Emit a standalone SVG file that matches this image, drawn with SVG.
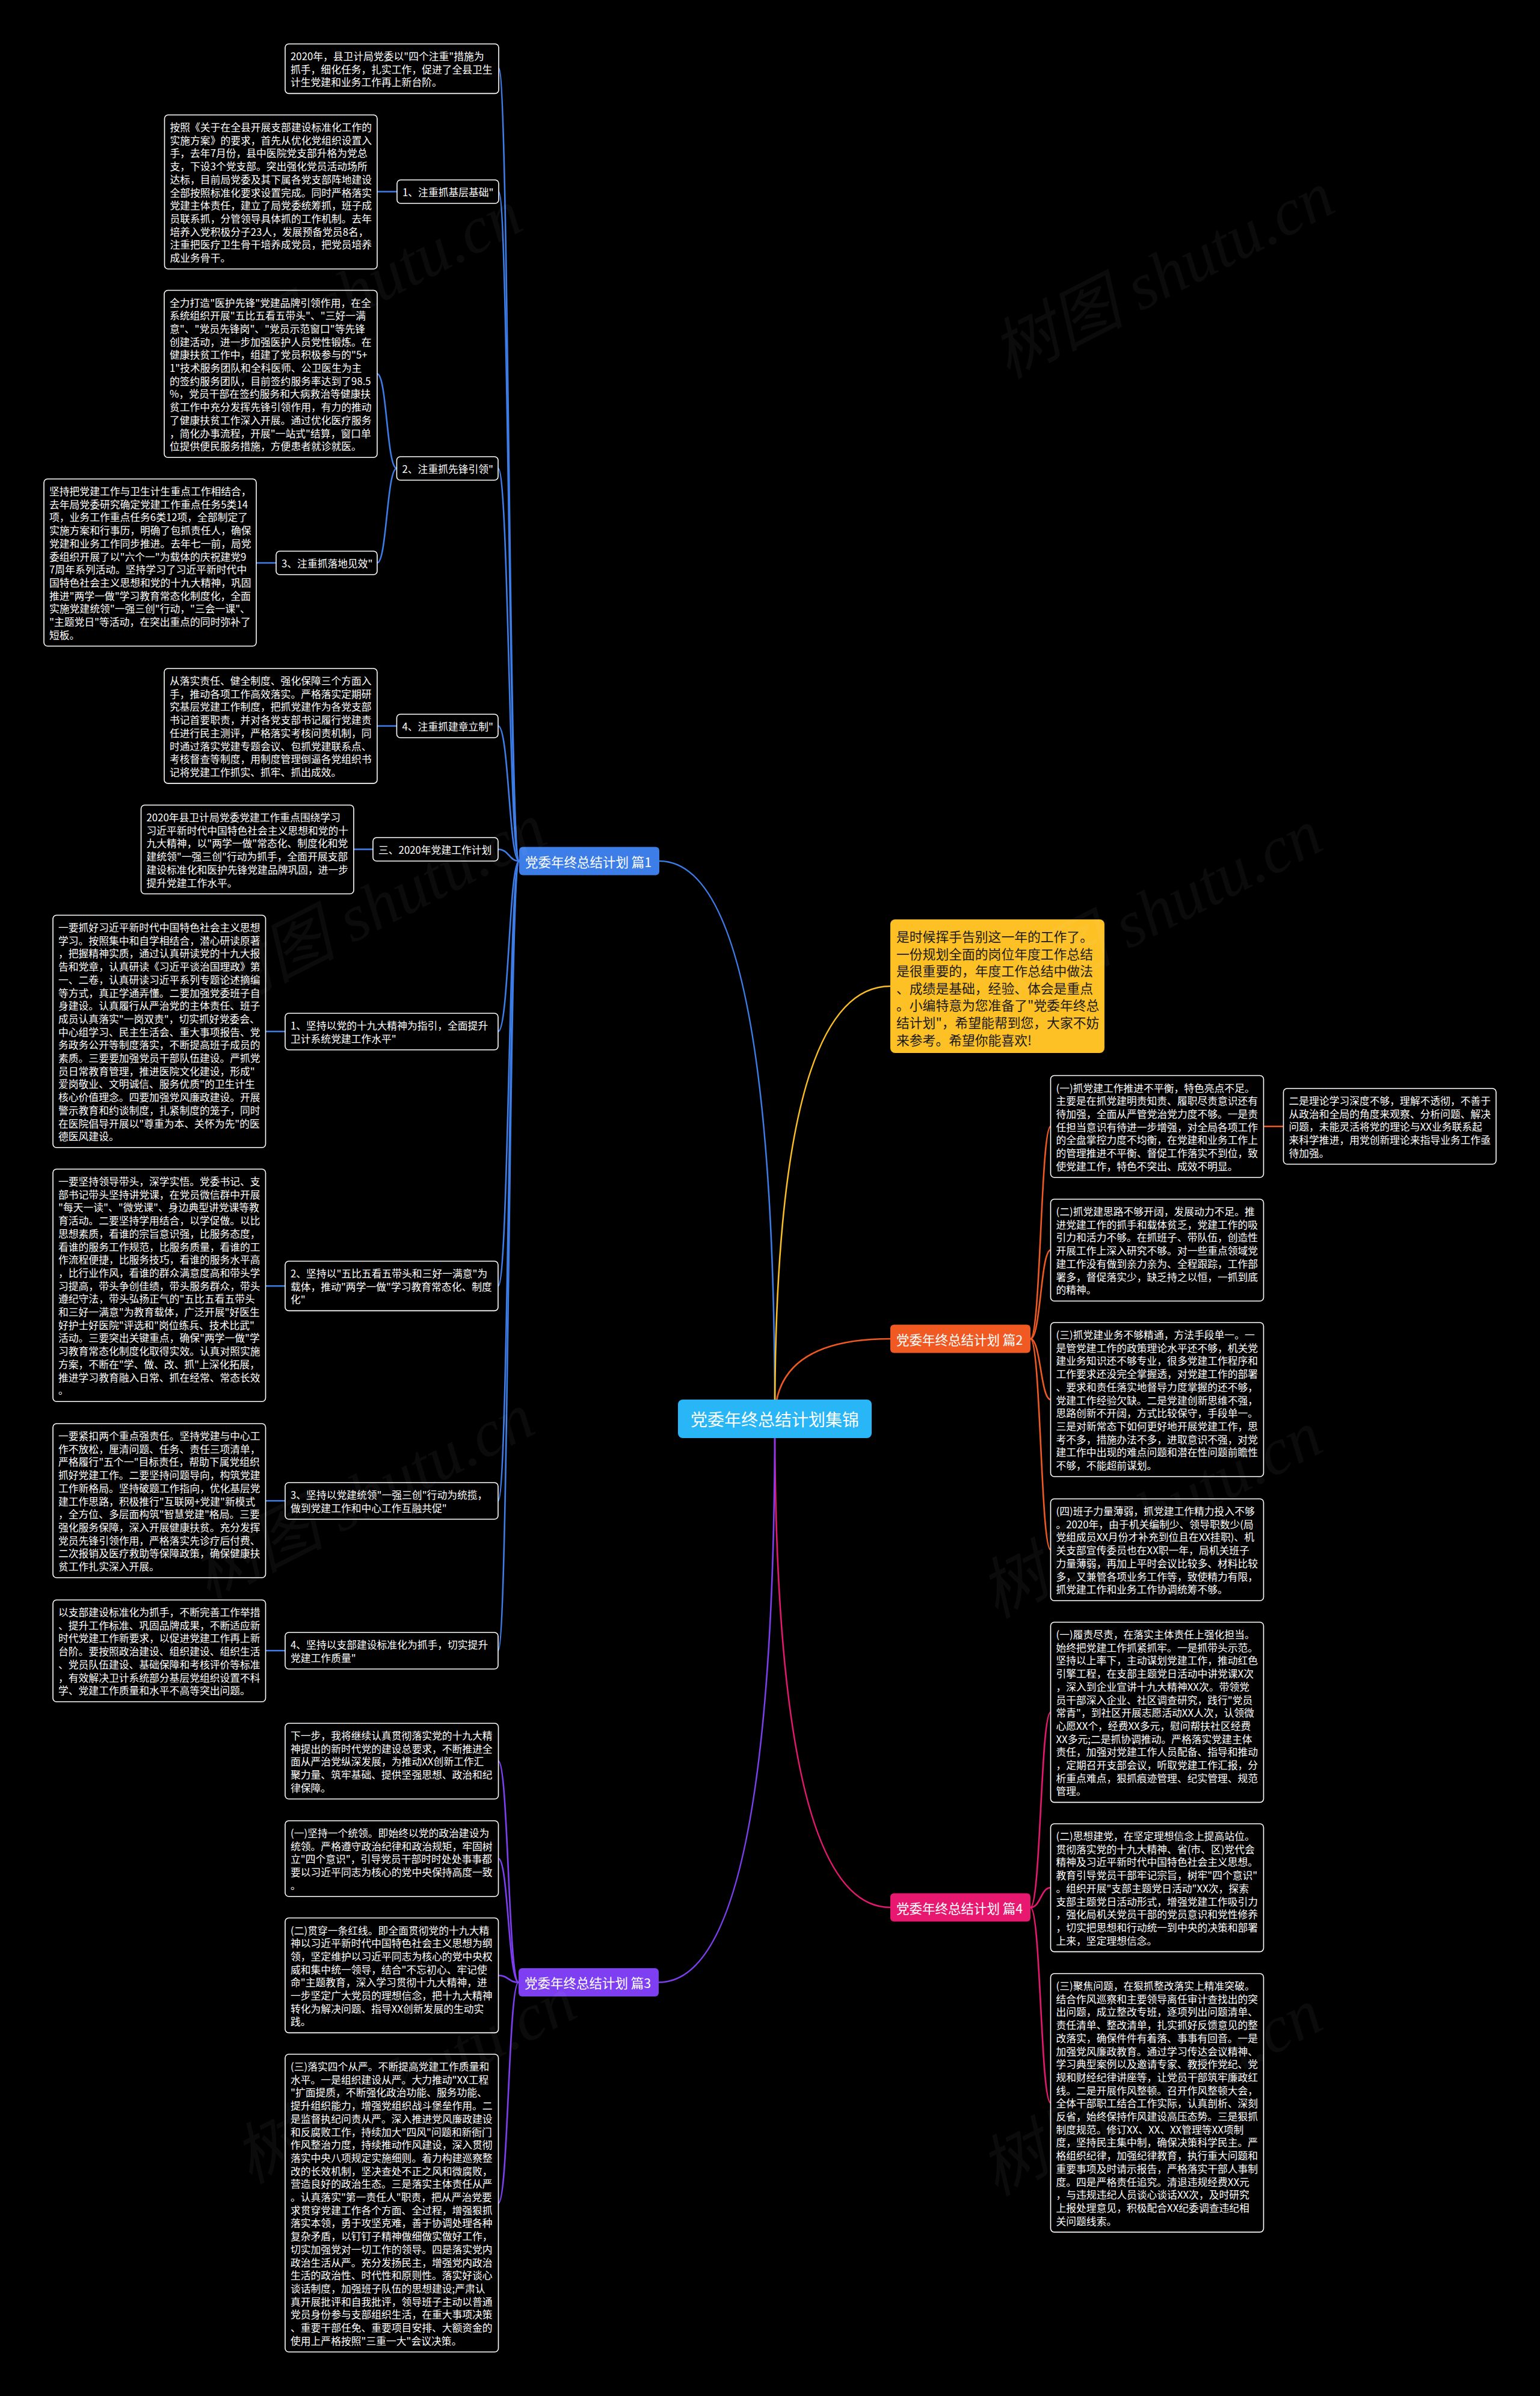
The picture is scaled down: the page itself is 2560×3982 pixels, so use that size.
<svg xmlns="http://www.w3.org/2000/svg" width="2560" height="3982" viewBox="0 0 2560 3982">
<style>
.bg{fill:#000}
.bx{fill:#000;stroke:#fff;stroke-width:1.6}
.tx{font-family:"Noto Sans CJK SC","Noto Sans",sans-serif;font-size:16.8px;fill:#fff;dominant-baseline:central}
.tm{font-family:"Noto Sans CJK SC","Noto Sans",sans-serif;font-size:21.5px;fill:#fff;dominant-baseline:central}
.ti{font-family:"Noto Sans CJK SC","Noto Sans",sans-serif;font-size:21.8px;fill:#1a1a1a;dominant-baseline:central}
.tr{font-family:"Noto Sans CJK SC","Noto Sans",sans-serif;font-size:28px;fill:#fff;dominant-baseline:central;text-anchor:middle}
.ln{fill:none;stroke-width:2.6}
.cb{stroke:#3d7de8}.co{stroke:#f05a22}.cp{stroke:#7e3ff2}.ck{stroke:#e8176f}.cy{stroke:#fbbf24}
.wm{font-family:"Liberation Serif","Noto Sans CJK SC",serif;font-style:italic;font-size:110px;fill:#fff;fill-opacity:0.045;text-anchor:middle}
</style>
<rect class="bg" x="0" y="0" width="2560" height="3982"/>

<g id="connectors">
<path class="ln cb" d="M1288,2358 Q1288,1431 1096,1431"/>
<path class="ln cy" d="M1288,2358 Q1288,1639 1480,1639"/>
<path class="ln co" d="M1288,2358 Q1288,2225 1480,2225"/>
<path class="ln ck" d="M1288,2358 Q1288,3170 1480,3170"/>
<path class="ln cp" d="M1288,2358 Q1288,3294.5 1095,3294.5"/>

<path class="ln cb" d="M863,1431 C846,1431 846,113.5 829,113.5"/>
<path class="ln cb" d="M863,1431 C846,1431 846,318.5 829,318.5"/>
<path class="ln cb" d="M863,1431 C846,1431 846,778.5 828,778.5"/>
<path class="ln cb" d="M863,1431 C846,1431 846,1206.5 828,1206.5"/>
<path class="ln cb" d="M863,1431 C846,1431 846,1411.5 828,1411.5"/>
<path class="ln cb" d="M863,1431 C846,1431 846,1714.3 828,1714.3"/>
<path class="ln cb" d="M863,1431 C846,1431 846,2137.2 828,2137.2"/>
<path class="ln cb" d="M863,1431 C846,1431 846,2494.3 828,2494.3"/>
<path class="ln cb" d="M863,1431 C846,1431 846,2743.3 828,2743.3"/>

<path class="ln cb" d="M660,318.5 L627,318.5"/>
<path class="ln cb" d="M659.5,778.5 C643,778.5 643,621.4 627,621.4"/>
<path class="ln cb" d="M659.5,778.5 C643,778.5 643,935.5 627,935.5"/>
<path class="ln cb" d="M459,935.5 L426,935.5"/>
<path class="ln cb" d="M659.5,1206.5 L627,1206.5"/>
<path class="ln cb" d="M620,1411.5 L588,1411.5"/>
<path class="ln cb" d="M474,1714.3 L441.5,1714.3"/>
<path class="ln cb" d="M474,2137.2 L441.5,2137.2"/>
<path class="ln cb" d="M474,2494.3 L441.5,2494.3"/>
<path class="ln cb" d="M474,2743.3 L441.5,2743.3"/>

<path class="ln cp" d="M862,3294.5 C845,3294.5 845,2926.9 828.5,2926.9"/>
<path class="ln cp" d="M862,3294.5 C845,3294.5 845,3088.9 828.5,3088.9"/>
<path class="ln cp" d="M862,3294.5 C845,3294.5 845,3283 828.5,3283"/>
<path class="ln cp" d="M862,3294.5 C845,3294.5 845,3661.4 828.5,3661.4"/>

<path class="ln co" d="M1713,2225 C1730,2225 1730,1872.1 1746.5,1872.1"/>
<path class="ln co" d="M1713,2225 C1730,2225 1730,2077.6 1746.5,2077.6"/>
<path class="ln co" d="M1713,2225 C1730,2225 1730,2326 1746.5,2326"/>
<path class="ln co" d="M1713,2225 C1730,2225 1730,2575.6 1746.5,2575.6"/>
<path class="ln co" d="M2100.5,1872 L2133.5,1872"/>

<path class="ln ck" d="M1713,3170 C1730,3170 1730,2845.7 1746.5,2845.7"/>
<path class="ln ck" d="M1713,3170 C1730,3170 1730,3137.3 1746.5,3137.3"/>
<path class="ln ck" d="M1713,3170 C1730,3170 1730,3494.8 1746.5,3494.8"/>
</g>

<g id="root">
<rect x="1127" y="2326" width="322" height="64" rx="8" fill="#29b6f6"/>
<text class="tr" x="1288" y="2358">党委年终总结计划集锦</text>
</g>

<g id="intro">
<rect x="1480" y="1528" width="356" height="222" rx="8" fill="#fdc125"/>
<text class="ti"><tspan x="1490" y="1555">是时候挥手告别这一年的工作了。</tspan><tspan x="1490" y="1583.6">一份规划全面的岗位年度工作总结</tspan><tspan x="1490" y="1612.2">是很重要的，年度工作总结中做法</tspan><tspan x="1490" y="1640.8">、成绩是基础，经验、体会是重点</tspan><tspan x="1490" y="1669.4">。小编特意为您准备了"党委年终总</tspan><tspan x="1490" y="1698">结计划"，希望能帮到您，大家不妨</tspan><tspan x="1490" y="1726.6">来参考。希望你能喜欢!</tspan></text>
</g>

<g id="p1">
<rect x="863" y="1407.5" width="233" height="47" rx="6" fill="#3d7de8"/>
<text class="tm" x="873" y="1431">党委年终总结计划 篇1</text>
</g>
<g id="p2">
<rect x="1480" y="2201.5" width="233" height="47" rx="6" fill="#f05a22"/>
<text class="tm" x="1490" y="2225">党委年终总结计划 篇2</text>
</g>
<g id="p3">
<rect x="862" y="3271" width="233" height="47" rx="6" fill="#7e3ff2"/>
<text class="tm" x="872" y="3294.5">党委年终总结计划 篇3</text>
</g>
<g id="p4">
<rect x="1480" y="3146.5" width="233" height="47" rx="6" fill="#e8176f"/>
<text class="tm" x="1490" y="3170">党委年终总结计划 篇4</text>
</g>

<g id="a">
<rect class="bx" x="474" y="73" width="355" height="82.4" rx="6"/>
<text class="tx"><tspan x="483" y="93">2020年，县卫计局党委以"四个注重"措施为</tspan><tspan x="483" y="114.7">抓手，细化任务，扎实工作，促进了全县卫生</tspan><tspan x="483" y="136.4">计生党建和业务工作再上新台阶。</tspan></text>
</g>
<g id="n1">
<rect class="bx" x="660" y="299" width="169" height="39" rx="6"/>
<text class="tx" x="669" y="318.5">1、注重抓基层基础"</text>
</g>
<g id="b">
<rect class="bx" x="273.5" y="191" width="353.5" height="256" rx="6"/>
<text class="tx"><tspan x="282.5" y="211">按照《关于在全县开展支部建设标准化工作的</tspan><tspan x="282.5" y="232.7">实施方案》的要求，首先从优化党组织设置入</tspan><tspan x="282.5" y="254.4">手，去年7月份，县中医院党支部升格为党总</tspan><tspan x="282.5" y="276.1">支，下设3个党支部。突出强化党员活动场所</tspan><tspan x="282.5" y="297.8">达标，目前局党委及其下属各党支部阵地建设</tspan><tspan x="282.5" y="319.5">全部按照标准化要求设置完成。同时严格落实</tspan><tspan x="282.5" y="341.2">党建主体责任，建立了局党委统筹抓，班子成</tspan><tspan x="282.5" y="362.9">员联系抓，分管领导具体抓的工作机制。去年</tspan><tspan x="282.5" y="384.6">培养入党积极分子23人，发展预备党员8名，</tspan><tspan x="282.5" y="406.3">注重把医疗卫生骨干培养成党员，把党员培养</tspan><tspan x="282.5" y="428">成业务骨干。</tspan></text>
</g>
<g id="n2">
<rect class="bx" x="659.5" y="759" width="168.5" height="39" rx="6"/>
<text class="tx" x="668.5" y="778.5">2、注重抓先锋引领"</text>
</g>
<g id="c">
<rect class="bx" x="273" y="482.5" width="354" height="277.7" rx="6"/>
<text class="tx"><tspan x="282" y="502.5">全力打造"医护先锋"党建品牌引领作用，在全</tspan><tspan x="282" y="524.2">系统组织开展"五比五看五带头"、"三好一满</tspan><tspan x="282" y="545.9">意"、"党员先锋岗"、"党员示范窗口"等先锋</tspan><tspan x="282" y="567.6">创建活动，进一步加强医护人员党性锻炼。在</tspan><tspan x="282" y="589.3">健康扶贫工作中，组建了党员积极参与的"5+</tspan><tspan x="282" y="611">1"技术服务团队和全科医师、公卫医生为主</tspan><tspan x="282" y="632.7">的签约服务团队，目前签约服务率达到了98.5</tspan><tspan x="282" y="654.4">%，党员干部在签约服务和大病救治等健康扶</tspan><tspan x="282" y="676.1">贫工作中充分发挥先锋引领作用，有力的推动</tspan><tspan x="282" y="697.8">了健康扶贫工作深入开展。通过优化医疗服务</tspan><tspan x="282" y="719.5">，简化办事流程，开展"一站式"结算，窗口单</tspan><tspan x="282" y="741.2">位提供便民服务措施，方便患者就诊就医。</tspan></text>
</g>
<g id="n3">
<rect class="bx" x="459" y="916" width="168" height="39" rx="6"/>
<text class="tx" x="468" y="935.5">3、注重抓落地见效"</text>
</g>
<g id="d">
<rect class="bx" x="73" y="796" width="353" height="277.7" rx="6"/>
<text class="tx"><tspan x="82" y="816">坚持把党建工作与卫生计生重点工作相结合，</tspan><tspan x="82" y="837.7">去年局党委研究确定党建工作重点任务5类14</tspan><tspan x="82" y="859.4">项，业务工作重点任务6类12项，全部制定了</tspan><tspan x="82" y="881.1">实施方案和行事历，明确了包抓责任人，确保</tspan><tspan x="82" y="902.8">党建和业务工作同步推进。去年七一前，局党</tspan><tspan x="82" y="924.5">委组织开展了以"六个一"为载体的庆祝建党9</tspan><tspan x="82" y="946.2">7周年系列活动。坚持学习了习近平新时代中</tspan><tspan x="82" y="967.9">国特色社会主义思想和党的十九大精神，巩固</tspan><tspan x="82" y="989.6">推进"两学一做"学习教育常态化制度化，全面</tspan><tspan x="82" y="1011.3">实施党建统领"一强三创"行动，"三会一课"、</tspan><tspan x="82" y="1033">"主题党日"等活动，在突出重点的同时弥补了</tspan><tspan x="82" y="1054.7">短板。</tspan></text>
</g>
<g id="n4">
<rect class="bx" x="659.5" y="1187" width="168.5" height="39" rx="6"/>
<text class="tx" x="668.5" y="1206.5">4、注重抓建章立制"</text>
</g>
<g id="e">
<rect class="bx" x="273" y="1111" width="354" height="190.9" rx="6"/>
<text class="tx"><tspan x="282" y="1131">从落实责任、健全制度、强化保障三个方面入</tspan><tspan x="282" y="1152.7">手，推动各项工作高效落实。严格落实定期研</tspan><tspan x="282" y="1174.4">究基层党建工作制度，把抓党建作为各党支部</tspan><tspan x="282" y="1196.1">书记首要职责，并对各党支部书记履行党建责</tspan><tspan x="282" y="1217.8">任进行民主测评，严格落实考核问责机制，同</tspan><tspan x="282" y="1239.5">时通过落实党建专题会议、包抓党建联系点、</tspan><tspan x="282" y="1261.2">考核督查等制度，用制度管理倒逼各党组织书</tspan><tspan x="282" y="1282.9">记将党建工作抓实、抓牢、抓出成效。</tspan></text>
</g>
<g id="n5">
<rect class="bx" x="620" y="1392" width="208" height="39" rx="6"/>
<text class="tx" x="629" y="1411.5">三、2020年党建工作计划</text>
</g>
<g id="f">
<rect class="bx" x="234.5" y="1338" width="353.5" height="147.5" rx="6"/>
<text class="tx"><tspan x="243.5" y="1358">2020年县卫计局党委党建工作重点围绕学习</tspan><tspan x="243.5" y="1379.7">习近平新时代中国特色社会主义思想和党的十</tspan><tspan x="243.5" y="1401.4">九大精神，以"两学一做"常态化、制度化和党</tspan><tspan x="243.5" y="1423.1">建统领"一强三创"行动为抓手，全面开展支部</tspan><tspan x="243.5" y="1444.8">建设标准化和医护先锋党建品牌巩固，进一步</tspan><tspan x="243.5" y="1466.5">提升党建工作水平。</tspan></text>
</g>
<g id="n6">
<rect class="bx" x="474" y="1684" width="354" height="60.7" rx="6"/>
<text class="tx"><tspan x="483" y="1704">1、坚持以党的十九大精神为指引，全面提升</tspan><tspan x="483" y="1725.7">卫计系统党建工作水平"</tspan></text>
</g>
<g id="g">
<rect class="bx" x="88" y="1521" width="353.5" height="386.2" rx="6"/>
<text class="tx"><tspan x="97" y="1541">一要抓好习近平新时代中国特色社会主义思想</tspan><tspan x="97" y="1562.7">学习。按照集中和自学相结合，潜心研读原著</tspan><tspan x="97" y="1584.4">，把握精神实质，通过认真研读党的十九大报</tspan><tspan x="97" y="1606.1">告和党章，认真研读《习近平谈治国理政》第</tspan><tspan x="97" y="1627.8">一、二卷，认真研读习近平系列专题论述摘编</tspan><tspan x="97" y="1649.5">等方式，真正学通弄懂。二要加强党委班子自</tspan><tspan x="97" y="1671.2">身建设。认真履行从严治党的主体责任、班子</tspan><tspan x="97" y="1692.9">成员认真落实"一岗双责"，切实抓好党委会、</tspan><tspan x="97" y="1714.6">中心组学习、民主生活会、重大事项报告、党</tspan><tspan x="97" y="1736.3">务政务公开等制度落实，不断提高班子成员的</tspan><tspan x="97" y="1758">素质。三要要加强党员干部队伍建设。严抓党</tspan><tspan x="97" y="1779.7">员日常教育管理，推进医院文化建设，形成"</tspan><tspan x="97" y="1801.4">爱岗敬业、文明诚信、服务优质"的卫生计生</tspan><tspan x="97" y="1823.1">核心价值理念。四要加强党风廉政建设。开展</tspan><tspan x="97" y="1844.8">警示教育和约谈制度，扎紧制度的笼子，同时</tspan><tspan x="97" y="1866.5">在医院倡导开展以"尊重为本、关怀为先"的医</tspan><tspan x="97" y="1888.2">德医风建设。</tspan></text>
</g>
<g id="n7">
<rect class="bx" x="474" y="2096" width="354" height="82.4" rx="6"/>
<text class="tx"><tspan x="483" y="2116">2、坚持以"五比五看五带头和三好一满意"为</tspan><tspan x="483" y="2137.7">载体，推动"两学一做"学习教育常态化、制度</tspan><tspan x="483" y="2159.4">化"</tspan></text>
</g>
<g id="h">
<rect class="bx" x="88" y="1943" width="353.5" height="386.2" rx="6"/>
<text class="tx"><tspan x="97" y="1963">一要坚持领导带头，深学实悟。党委书记、支</tspan><tspan x="97" y="1984.7">部书记带头坚持讲党课，在党员微信群中开展</tspan><tspan x="97" y="2006.4">"每天一读"、"微党课"、身边典型讲党课等教</tspan><tspan x="97" y="2028.1">育活动。二要坚持学用结合，以学促做。以比</tspan><tspan x="97" y="2049.8">思想素质，看谁的宗旨意识强，比服务态度，</tspan><tspan x="97" y="2071.5">看谁的服务工作规范，比服务质量，看谁的工</tspan><tspan x="97" y="2093.2">作流程便捷，比服务技巧，看谁的服务水平高</tspan><tspan x="97" y="2114.9">，比行业作风，看谁的群众满意度高和带头学</tspan><tspan x="97" y="2136.6">习提高，带头争创佳绩，带头服务群众，带头</tspan><tspan x="97" y="2158.3">遵纪守法，带头弘扬正气的"五比五看五带头</tspan><tspan x="97" y="2180">和三好一满意"为教育载体，广泛开展"好医生</tspan><tspan x="97" y="2201.7">好护士好医院"评选和"岗位练兵、技术比武"</tspan><tspan x="97" y="2223.4">活动。三要突出关键重点，确保"两学一做"学</tspan><tspan x="97" y="2245.1">习教育常态化制度化取得实效。认真对照实施</tspan><tspan x="97" y="2266.8">方案，不断在"学、做、改、抓"上深化拓展，</tspan><tspan x="97" y="2288.5">推进学习教育融入日常、抓在经常、常态长效</tspan><tspan x="97" y="2310.2">。</tspan></text>
</g>
<g id="n8">
<rect class="bx" x="474" y="2464" width="354" height="60.7" rx="6"/>
<text class="tx"><tspan x="483" y="2484">3、坚持以党建统领"一强三创"行动为统揽，</tspan><tspan x="483" y="2505.7">做到党建工作和中心工作互融共促"</tspan></text>
</g>
<g id="i">
<rect class="bx" x="88" y="2366" width="353.5" height="256" rx="6"/>
<text class="tx"><tspan x="97" y="2386">一要紧扣两个重点强责任。坚持党建与中心工</tspan><tspan x="97" y="2407.7">作不放松，厘清问题、任务、责任三项清单，</tspan><tspan x="97" y="2429.4">严格履行"五个一"目标责任，帮助下属党组织</tspan><tspan x="97" y="2451.1">抓好党建工作。二要坚持问题导向，构筑党建</tspan><tspan x="97" y="2472.8">工作新格局。坚持破题工作指向，优化基层党</tspan><tspan x="97" y="2494.5">建工作思路，积极推行"互联网+党建"新模式</tspan><tspan x="97" y="2516.2">，全方位、多层面构筑"智慧党建"格局。三要</tspan><tspan x="97" y="2537.9">强化服务保障，深入开展健康扶贫。充分发挥</tspan><tspan x="97" y="2559.6">党员先锋引领作用，严格落实先诊疗后付费、</tspan><tspan x="97" y="2581.3">二次报销及医疗救助等保障政策，确保健康扶</tspan><tspan x="97" y="2603">贫工作扎实深入开展。</tspan></text>
</g>
<g id="n9">
<rect class="bx" x="474" y="2713" width="354" height="60.7" rx="6"/>
<text class="tx"><tspan x="483" y="2733">4、坚持以支部建设标准化为抓手，切实提升</tspan><tspan x="483" y="2754.7">党建工作质量"</tspan></text>
</g>
<g id="j">
<rect class="bx" x="88" y="2659" width="353.5" height="169.2" rx="6"/>
<text class="tx"><tspan x="97" y="2679">以支部建设标准化为抓手，不断完善工作举措</tspan><tspan x="97" y="2700.7">、提升工作标准、巩固品牌成果，不断适应新</tspan><tspan x="97" y="2722.4">时代党建工作新要求，以促进党建工作再上新</tspan><tspan x="97" y="2744.1">台阶。要按照政治建设、组织建设、组织生活</tspan><tspan x="97" y="2765.8">、党员队伍建设、基础保障和考核评价等标准</tspan><tspan x="97" y="2787.5">，有效解决卫计系统部分基层党组织设置不科</tspan><tspan x="97" y="2809.2">学、党建工作质量和水平不高等突出问题。</tspan></text>
</g>

<g id="k">
<rect class="bx" x="474" y="2864" width="354.5" height="125.8" rx="6"/>
<text class="tx"><tspan x="483" y="2884">下一步，我将继续认真贯彻落实党的十九大精</tspan><tspan x="483" y="2905.7">神提出的新时代党的建设总要求，不断推进全</tspan><tspan x="483" y="2927.4">面从严治党纵深发展，为推动XX创新工作汇</tspan><tspan x="483" y="2949.1">聚力量、筑牢基础、提供坚强思想、政治和纪</tspan><tspan x="483" y="2970.8">律保障。</tspan></text>
</g>
<g id="l">
<rect class="bx" x="474" y="3026" width="354.5" height="125.8" rx="6"/>
<text class="tx"><tspan x="483" y="3046">(一)坚持一个统领。即始终以党的政治建设为</tspan><tspan x="483" y="3067.7">统领。严格遵守政治纪律和政治规矩，牢固树</tspan><tspan x="483" y="3089.4">立"四个意识"，引导党员干部时时处处事事都</tspan><tspan x="483" y="3111.1">要以习近平同志为核心的党中央保持高度一致</tspan><tspan x="483" y="3132.8">。</tspan></text>
</g>
<g id="m">
<rect class="bx" x="474" y="3187.5" width="354.5" height="190.9" rx="6"/>
<text class="tx"><tspan x="483" y="3207.5">(二)贯穿一条红线。即全面贯彻党的十九大精</tspan><tspan x="483" y="3229.2">神以习近平新时代中国特色社会主义思想为纲</tspan><tspan x="483" y="3250.9">领，坚定维护以习近平同志为核心的党中央权</tspan><tspan x="483" y="3272.6">威和集中统一领导，结合"不忘初心、牢记使</tspan><tspan x="483" y="3294.3">命"主题教育，深入学习贯彻十九大精神，进</tspan><tspan x="483" y="3316">一步坚定广大党员的理想信念，把十九大精神</tspan><tspan x="483" y="3337.7">转化为解决问题、指导XX创新发展的生动实</tspan><tspan x="483" y="3359.4">践。</tspan></text>
</g>
<g id="n">
<rect class="bx" x="474" y="3414" width="354.5" height="494.7" rx="6"/>
<text class="tx"><tspan x="483" y="3434">(三)落实四个从严。不断提高党建工作质量和</tspan><tspan x="483" y="3455.7">水平。一是组织建设从严。大力推动"XX工程</tspan><tspan x="483" y="3477.4">"扩面提质，不断强化政治功能、服务功能、</tspan><tspan x="483" y="3499.1">提升组织能力，增强党组织战斗堡垒作用。二</tspan><tspan x="483" y="3520.8">是监督执纪问责从严。深入推进党风廉政建设</tspan><tspan x="483" y="3542.5">和反腐败工作，持续加大"四风"问题和新衙门</tspan><tspan x="483" y="3564.2">作风整治力度，持续推动作风建设，深入贯彻</tspan><tspan x="483" y="3585.9">落实中央八项规定实施细则。着力构建巡察整</tspan><tspan x="483" y="3607.6">改的长效机制，坚决查处不正之风和微腐败，</tspan><tspan x="483" y="3629.3">营造良好的政治生态。三是落实主体责任从严</tspan><tspan x="483" y="3651">。认真落实"第一责任人"职责，把从严治党要</tspan><tspan x="483" y="3672.7">求贯穿党建工作各个方面、全过程，增强狠抓</tspan><tspan x="483" y="3694.4">落实本领，勇于攻坚克难，善于协调处理各种</tspan><tspan x="483" y="3716.1">复杂矛盾，以钉钉子精神做细做实做好工作，</tspan><tspan x="483" y="3737.8">切实加强党对一切工作的领导。四是落实党内</tspan><tspan x="483" y="3759.5">政治生活从严。充分发扬民主，增强党内政治</tspan><tspan x="483" y="3781.2">生活的政治性、时代性和原则性。落实好谈心</tspan><tspan x="483" y="3802.9">谈话制度，加强班子队伍的思想建设;严肃认</tspan><tspan x="483" y="3824.6">真开展批评和自我批评，领导班子主动以普通</tspan><tspan x="483" y="3846.3">党员身份参与支部组织生活，在重大事项决策</tspan><tspan x="483" y="3868">、重要干部任免、重要项目安排、大额资金的</tspan><tspan x="483" y="3889.7">使用上严格按照"三重一大"会议决策。</tspan></text>
</g>

<g id="o">
<rect class="bx" x="1746.5" y="1787.5" width="354" height="169.2" rx="6"/>
<text class="tx"><tspan x="1755.5" y="1807.5">(一)抓党建工作推进不平衡，特色亮点不足。</tspan><tspan x="1755.5" y="1829.2">主要是在抓党建明责知责、履职尽责意识还有</tspan><tspan x="1755.5" y="1850.9">待加强，全面从严管党治党力度不够。一是责</tspan><tspan x="1755.5" y="1872.6">任担当意识有待进一步增强，对全局各项工作</tspan><tspan x="1755.5" y="1894.3">的全盘掌控力度不均衡，在党建和业务工作上</tspan><tspan x="1755.5" y="1916">的管理推进不平衡、督促工作落实不到位，致</tspan><tspan x="1755.5" y="1937.7">使党建工作，特色不突出、成效不明显。</tspan></text>
</g>
<g id="pp">
<rect class="bx" x="2133.5" y="1809" width="353.5" height="125.8" rx="6"/>
<text class="tx"><tspan x="2142.5" y="1829">二是理论学习深度不够，理解不透彻，不善于</tspan><tspan x="2142.5" y="1850.7">从政治和全局的角度来观察、分析问题、解决</tspan><tspan x="2142.5" y="1872.4">问题，未能灵活将党的理论与XX业务联系起</tspan><tspan x="2142.5" y="1894.1">来科学推进，用党创新理论来指导业务工作亟</tspan><tspan x="2142.5" y="1915.8">待加强。</tspan></text>
</g>
<g id="q">
<rect class="bx" x="1746.5" y="1993" width="354" height="169.2" rx="6"/>
<text class="tx"><tspan x="1755.5" y="2013">(二)抓党建思路不够开阔，发展动力不足。推</tspan><tspan x="1755.5" y="2034.7">进党建工作的抓手和载体贫乏，党建工作的吸</tspan><tspan x="1755.5" y="2056.4">引力和活力不够。在抓班子、带队伍，创造性</tspan><tspan x="1755.5" y="2078.1">开展工作上深入研究不够。对一些重点领域党</tspan><tspan x="1755.5" y="2099.8">建工作没有做到亲力亲为、全程跟踪，工作部</tspan><tspan x="1755.5" y="2121.5">署多，督促落实少，缺乏持之以恒，一抓到底</tspan><tspan x="1755.5" y="2143.2">的精神。</tspan></text>
</g>
<g id="r">
<rect class="bx" x="1746.5" y="2198" width="354" height="256" rx="6"/>
<text class="tx"><tspan x="1755.5" y="2218">(三)抓党建业务不够精通，方法手段单一。一</tspan><tspan x="1755.5" y="2239.7">是管党建工作的政策理论水平还不够，机关党</tspan><tspan x="1755.5" y="2261.4">建业务知识还不够专业，很多党建工作程序和</tspan><tspan x="1755.5" y="2283.1">工作要求还没完全掌握透，对党建工作的部署</tspan><tspan x="1755.5" y="2304.8">、要求和责任落实地督导力度掌握的还不够，</tspan><tspan x="1755.5" y="2326.5">党建工作经验欠缺。二是党建创新思维不强，</tspan><tspan x="1755.5" y="2348.2">思路创新不开阔，方式比较保守，手段单一。</tspan><tspan x="1755.5" y="2369.9">三是对新常态下如何更好地开展党建工作，思</tspan><tspan x="1755.5" y="2391.6">考不多，措施办法不多，进取意识不强，对党</tspan><tspan x="1755.5" y="2413.3">建工作中出现的难点问题和潜在性问题前瞻性</tspan><tspan x="1755.5" y="2435">不够，不能超前谋划。</tspan></text>
</g>
<g id="s">
<rect class="bx" x="1746.5" y="2491" width="354" height="169.2" rx="6"/>
<text class="tx"><tspan x="1755.5" y="2511">(四)班子力量薄弱，抓党建工作精力投入不够</tspan><tspan x="1755.5" y="2532.7">。2020年，由于机关编制少、领导职数少(局</tspan><tspan x="1755.5" y="2554.4">党组成员XX月份才补充到位且在XX挂职)、机</tspan><tspan x="1755.5" y="2576.1">关支部宣传委员也在XX职一年，局机关班子</tspan><tspan x="1755.5" y="2597.8">力量薄弱，再加上平时会议比较多、材料比较</tspan><tspan x="1755.5" y="2619.5">多，又兼管各项业务工作等，致使精力有限，</tspan><tspan x="1755.5" y="2641.2">抓党建工作和业务工作协调统筹不够。</tspan></text>
</g>

<g id="t">
<rect class="bx" x="1746.5" y="2696" width="354" height="299.4" rx="6"/>
<text class="tx"><tspan x="1755.5" y="2716">(一)履责尽责，在落实主体责任上强化担当。</tspan><tspan x="1755.5" y="2737.7">始终把党建工作抓紧抓牢。一是抓带头示范。</tspan><tspan x="1755.5" y="2759.4">坚持以上率下，主动谋划党建工作，推动红色</tspan><tspan x="1755.5" y="2781.1">引擎工程，在支部主题党日活动中讲党课X次</tspan><tspan x="1755.5" y="2802.8">，深入到企业宣讲十九大精神XX次。带领党</tspan><tspan x="1755.5" y="2824.5">员干部深入企业、社区调查研究，践行"党员</tspan><tspan x="1755.5" y="2846.2">常青"，到社区开展志愿活动XX人次，认领微</tspan><tspan x="1755.5" y="2867.9">心愿XX个，经费XX多元，慰问帮扶社区经费</tspan><tspan x="1755.5" y="2889.6">XX多元;二是抓协调推动。严格落实党建主体</tspan><tspan x="1755.5" y="2911.3">责任，加强对党建工作人员配备、指导和推动</tspan><tspan x="1755.5" y="2933">，定期召开支部会议，听取党建工作汇报，分</tspan><tspan x="1755.5" y="2954.7">析重点难点，狠抓痕迹管理、纪实管理、规范</tspan><tspan x="1755.5" y="2976.4">管理。</tspan></text>
</g>
<g id="u">
<rect class="bx" x="1746.5" y="3031" width="354" height="212.6" rx="6"/>
<text class="tx"><tspan x="1755.5" y="3051">(二)思想建党，在坚定理想信念上提高站位。</tspan><tspan x="1755.5" y="3072.7">贯彻落实党的十九大精神、省(市、区)党代会</tspan><tspan x="1755.5" y="3094.4">精神及习近平新时代中国特色社会主义思想。</tspan><tspan x="1755.5" y="3116.1">教育引导党员干部牢记宗旨，树牢"四个意识"</tspan><tspan x="1755.5" y="3137.8">。组织开展"支部主题党日活动"XX次，探索</tspan><tspan x="1755.5" y="3159.5">支部主题党日活动形式，增强党建工作吸引力</tspan><tspan x="1755.5" y="3181.2">，强化局机关党员干部的党员意识和党性修养</tspan><tspan x="1755.5" y="3202.9">，切实把思想和行动统一到中央的决策和部署</tspan><tspan x="1755.5" y="3224.6">上来，坚定理想信念。</tspan></text>
</g>
<g id="v">
<rect class="bx" x="1746.5" y="3280" width="354" height="429.6" rx="6"/>
<text class="tx"><tspan x="1755.5" y="3300">(三)聚焦问题，在狠抓整改落实上精准突破。</tspan><tspan x="1755.5" y="3321.7">结合作风巡察和主要领导离任审计查找出的突</tspan><tspan x="1755.5" y="3343.4">出问题，成立整改专班，逐项列出问题清单、</tspan><tspan x="1755.5" y="3365.1">责任清单、整改清单，扎实抓好反馈意见的整</tspan><tspan x="1755.5" y="3386.8">改落实，确保件件有着落、事事有回音。一是</tspan><tspan x="1755.5" y="3408.5">加强党风廉政教育。通过学习传达会议精神、</tspan><tspan x="1755.5" y="3430.2">学习典型案例以及邀请专家、教授作党纪、党</tspan><tspan x="1755.5" y="3451.9">规和财经纪律讲座等，让党员干部筑牢廉政红</tspan><tspan x="1755.5" y="3473.6">线。二是开展作风整顿。召开作风整顿大会，</tspan><tspan x="1755.5" y="3495.3">全体干部职工结合工作实际，认真剖析、深刻</tspan><tspan x="1755.5" y="3517">反省，始终保持作风建设高压态势。三是狠抓</tspan><tspan x="1755.5" y="3538.7">制度规范。修订XX、XX、XX管理等XX项制</tspan><tspan x="1755.5" y="3560.4">度，坚持民主集中制，确保决策科学民主。严</tspan><tspan x="1755.5" y="3582.1">格组织纪律，加强纪律教育，执行重大问题和</tspan><tspan x="1755.5" y="3603.8">重要事项及时请示报告，严格落实干部人事制</tspan><tspan x="1755.5" y="3625.5">度。四是严格责任追究。清退违规经费XX元</tspan><tspan x="1755.5" y="3647.2">，与违规违纪人员谈心谈话XX次，及时研究</tspan><tspan x="1755.5" y="3668.9">上报处理意见，积极配合XX纪委调查违纪相</tspan><tspan x="1755.5" y="3690.6">关问题线索。</tspan></text>
</g>

<g id="watermarks">
<text class="wm" transform="translate(600,520) rotate(-27)">树图 shutu.cn</text>
<text class="wm" transform="translate(1950,490) rotate(-27)">树图 shutu.cn</text>
<text class="wm" transform="translate(640,1540) rotate(-27)">树图 shutu.cn</text>
<text class="wm" transform="translate(1930,1550) rotate(-27)">树图 shutu.cn</text>
<text class="wm" transform="translate(620,2520) rotate(-27)">树图 shutu.cn</text>
<text class="wm" transform="translate(1930,2550) rotate(-27)">树图 shutu.cn</text>
<text class="wm" transform="translate(690,3490) rotate(-27)">树图 shutu.cn</text>
<text class="wm" transform="translate(1930,3510) rotate(-27)">树图 shutu.cn</text>
</g>
</svg>
